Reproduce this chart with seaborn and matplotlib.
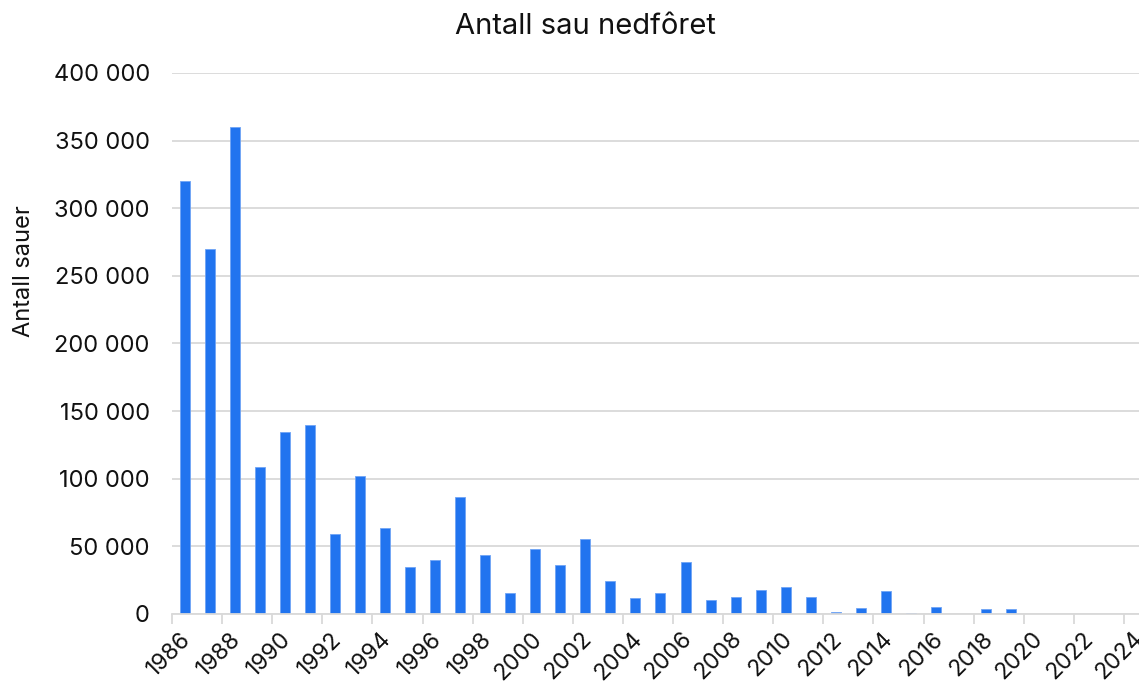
import numpy as np
import pandas as pd
import matplotlib.pyplot as plt
from matplotlib.ticker import FuncFormatter
from matplotlib.transforms import ScaledTranslation
import seaborn as sns

# Antall sau nedfôret per år
years = list(range(1986, 2025))
sheep = [320000, 270000, 360000, 108500, 134500, 139500, 58800, 102000,
         63500, 34500, 40000, 86300, 43500, 15800, 47800, 36000,
         55200, 24500, 11500, 15800, 38500, 10200, 12800, 17500,
         19900, 12400, 1400, 4300, 16800, 600, 5200, 0,
         3600, 3400, 0, 0, 0, 0, 0]
tick_years = list(range(1986, 2025, 2))

BAR_COLOR = "#2174EF"
GRID_COLOR = "#D9D9D9"
TEXT_COLOR = "#111111"

sns.set_theme(style="white")
plt.rcParams["font.family"] = ["Inter", "DejaVu Sans"]
plt.rcParams["text.color"] = TEXT_COLOR
plt.rcParams["xtick.labelcolor"] = TEXT_COLOR
plt.rcParams["ytick.labelcolor"] = TEXT_COLOR
plt.rcParams["axes.labelcolor"] = TEXT_COLOR

df = pd.DataFrame({"year": years, "sheep": sheep})
# bars sit in the middle of each year slot, ticks on the slot edges
df["pos"] = df["year"] + 0.5

fig = plt.figure(figsize=(11.39, 6.86), dpi=100)
ax = fig.add_axes([172 / 1139, 72 / 686, 967 / 1139, 541 / 686])

sns.barplot(data=df, x="pos", y="sheep", native_scale=True, width=0.4,
            color=BAR_COLOR, saturation=1, edgecolor="#6FA4F5", linewidth=0.6,
            ax=ax)

ax.set_xlim(1986, 1986 + 967 / 25.05)
ax.set_ylim(0, 400000)
ax.set_yticks(np.arange(0, 400001, 50000))
ax.yaxis.set_major_formatter(FuncFormatter(lambda v, _: f"{int(v):,}".replace(",", " ")))
ax.set_xticks(tick_years)
ax.set_xticklabels([str(y) for y in tick_years], rotation=45, ha="right",
                   rotation_mode="anchor")

ax.grid(axis="y", color=GRID_COLOR, linewidth=1.3)
ax.set_axisbelow(True)
for side in ["top", "right", "left"]:
    ax.spines[side].set_visible(False)
ax.spines["bottom"].set_color(GRID_COLOR)
ax.spines["bottom"].set_linewidth(1.3)

ax.tick_params(axis="x", which="major", bottom=True, length=7, width=1.3,
               color=GRID_COLOR, labelsize=16.5, pad=3)
ax.tick_params(axis="y", left=False, labelsize=17, pad=10)

# nudge the slanted year labels a bit to the right like the original
# (must come after tick_params, which resets the label transforms)
shift = ScaledTranslation(8 / 100, 0, fig.dpi_scale_trans)
for lbl in ax.get_xticklabels():
    lbl.set_transform(lbl.get_transform() + shift)

ax.set_xlabel("")
ax.set_ylabel("Antall sauer", fontsize=17)
ax.yaxis.set_label_coords(-0.1417, 0.634)
fig.suptitle("Antall sau nedfôret", x=585 / 1139, y=1 - 27 / 686,
             va="center", fontsize=21)

fig.savefig("out.png", dpi=100)
